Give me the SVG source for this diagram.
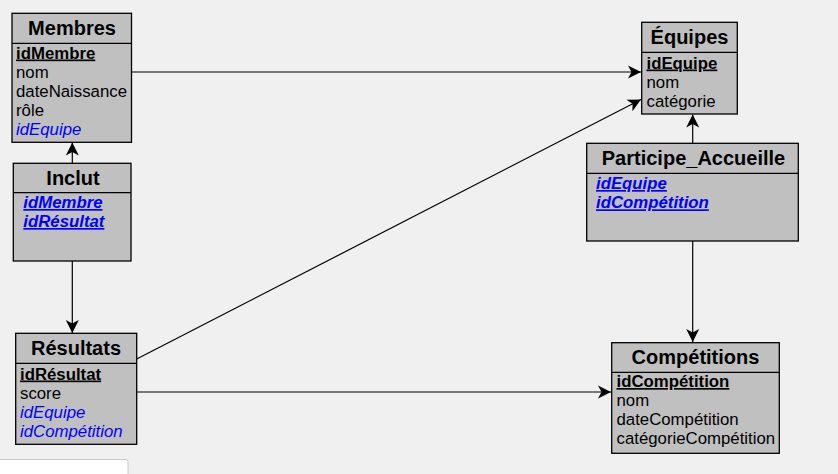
<svg xmlns="http://www.w3.org/2000/svg" width="838" height="474" viewBox="0 0 838 474">
<defs>
<style>
.box{fill:#c0c0c0;stroke:#000;stroke-width:1.3}
.sep{stroke:#000;stroke-width:1.3}
.title{font-family:"Liberation Sans",Arial,sans-serif;font-size:20px;font-weight:bold;fill:#000;text-anchor:middle}
.attr{font-family:"Liberation Sans",Arial,sans-serif;font-size:16.8px;fill:#000}
.pk{font-weight:bold;text-decoration:underline}
.fk{fill:#0000ff;font-style:italic}
.pkfk{fill:#0000ff;font-style:italic;font-weight:bold;text-decoration:underline}
.conn{stroke:#000;stroke-width:1.2;fill:none}
</style>
<marker id="arr" markerUnits="userSpaceOnUse" markerWidth="16" markerHeight="16" viewBox="-14 -8 16 16" refX="0" refY="0" orient="auto">
<path d="M0,0 L-13,-6.5 L-9.5,0 L-13,6.5 Z" fill="#000"/>
</marker>
</defs>
<rect x="0" y="0" width="838" height="474" fill="#f0f0f0"/>
<rect x="-2" y="459.5" width="130" height="20" rx="2" fill="#ffffff" stroke="#c8c8c8"/>

<g id="connectors">
<line class="conn" x1="131.5" y1="72" x2="641" y2="72" marker-end="url(#arr)"/>
<line class="conn" x1="136.7" y1="359" x2="641" y2="99.5" marker-end="url(#arr)" stroke-width="1"/>
<line class="conn" x1="136.7" y1="392" x2="611" y2="392" marker-end="url(#arr)"/>
<line class="conn" x1="72.3" y1="163.3" x2="72.3" y2="142.5" marker-end="url(#arr)"/>
<line class="conn" x1="72.3" y1="261" x2="72.3" y2="333" marker-end="url(#arr)"/>
<line class="conn" x1="692.7" y1="143.3" x2="692.7" y2="114.5" marker-end="url(#arr)"/>
<line class="conn" x1="692.7" y1="241" x2="692.7" y2="342" marker-end="url(#arr)"/>
</g>

<g id="membres">
<rect class="box" x="12" y="13.3" width="119.5" height="129"/>
<line class="sep" x1="12" y1="43.3" x2="131.5" y2="43.3"/>
<text class="title" x="72" y="35">Membres</text>
<text class="attr pk" x="16" y="58.5">idMembre</text>
<text class="attr" x="16" y="77.5">nom</text>
<text class="attr" x="16" y="96.5">dateNaissance</text>
<text class="attr" x="16" y="115.5">rôle</text>
<text class="attr fk" x="16" y="134.5">idEquipe</text>
</g>

<g id="inclut">
<rect class="box" x="13.3" y="163.3" width="117.7" height="97.7"/>
<line class="sep" x1="13.3" y1="192.7" x2="131" y2="192.7"/>
<text class="title" x="73" y="185">Inclut</text>
<text class="attr pkfk" x="23.3" y="208">idMembre</text>
<text class="attr pkfk" x="23.3" y="227">idRésultat</text>
</g>

<g id="resultats">
<rect class="box" x="15.7" y="333.3" width="121" height="111"/>
<line class="sep" x1="15.7" y1="363.3" x2="136.7" y2="363.3"/>
<text class="title" x="76" y="355">Résultats</text>
<text class="attr pk" x="20" y="379.5">idRésultat</text>
<text class="attr" x="20" y="398.5">score</text>
<text class="attr fk" x="20" y="417.5">idEquipe</text>
<text class="attr fk" x="20" y="436.5">idCompétition</text>
</g>

<g id="equipes">
<rect class="box" x="641.7" y="22.3" width="95.6" height="91.7"/>
<line class="sep" x1="641.7" y1="52.3" x2="737.3" y2="52.3"/>
<text class="title" x="689.5" y="44">Équipes</text>
<text class="attr pk" x="646.5" y="68.5">idEquipe</text>
<text class="attr" x="646.5" y="87.5">nom</text>
<text class="attr" x="646.5" y="106.5">catégorie</text>
</g>

<g id="participe_accueille">
<rect class="box" x="586.7" y="143.3" width="211.6" height="97.7"/>
<line class="sep" x1="586.7" y1="173.3" x2="798.3" y2="173.3"/>
<text class="title" x="693.5" y="165">Participe_Accueille</text>
<text class="attr pkfk" x="596" y="189">idEquipe</text>
<text class="attr pkfk" x="596" y="208.3">idCompétition</text>
</g>

<g id="competitions">
<rect class="box" x="611.7" y="342.7" width="167.6" height="110.6"/>
<line class="sep" x1="611.7" y1="372.3" x2="779.3" y2="372.3"/>
<text class="title" x="695.5" y="364">Compétitions</text>
<text class="attr pk" x="616.5" y="387">idCompétition</text>
<text class="attr" x="616.5" y="406">nom</text>
<text class="attr" x="616.5" y="425">dateCompétition</text>
<text class="attr" x="616.5" y="444">catégorieCompétition</text>
</g>
</svg>
